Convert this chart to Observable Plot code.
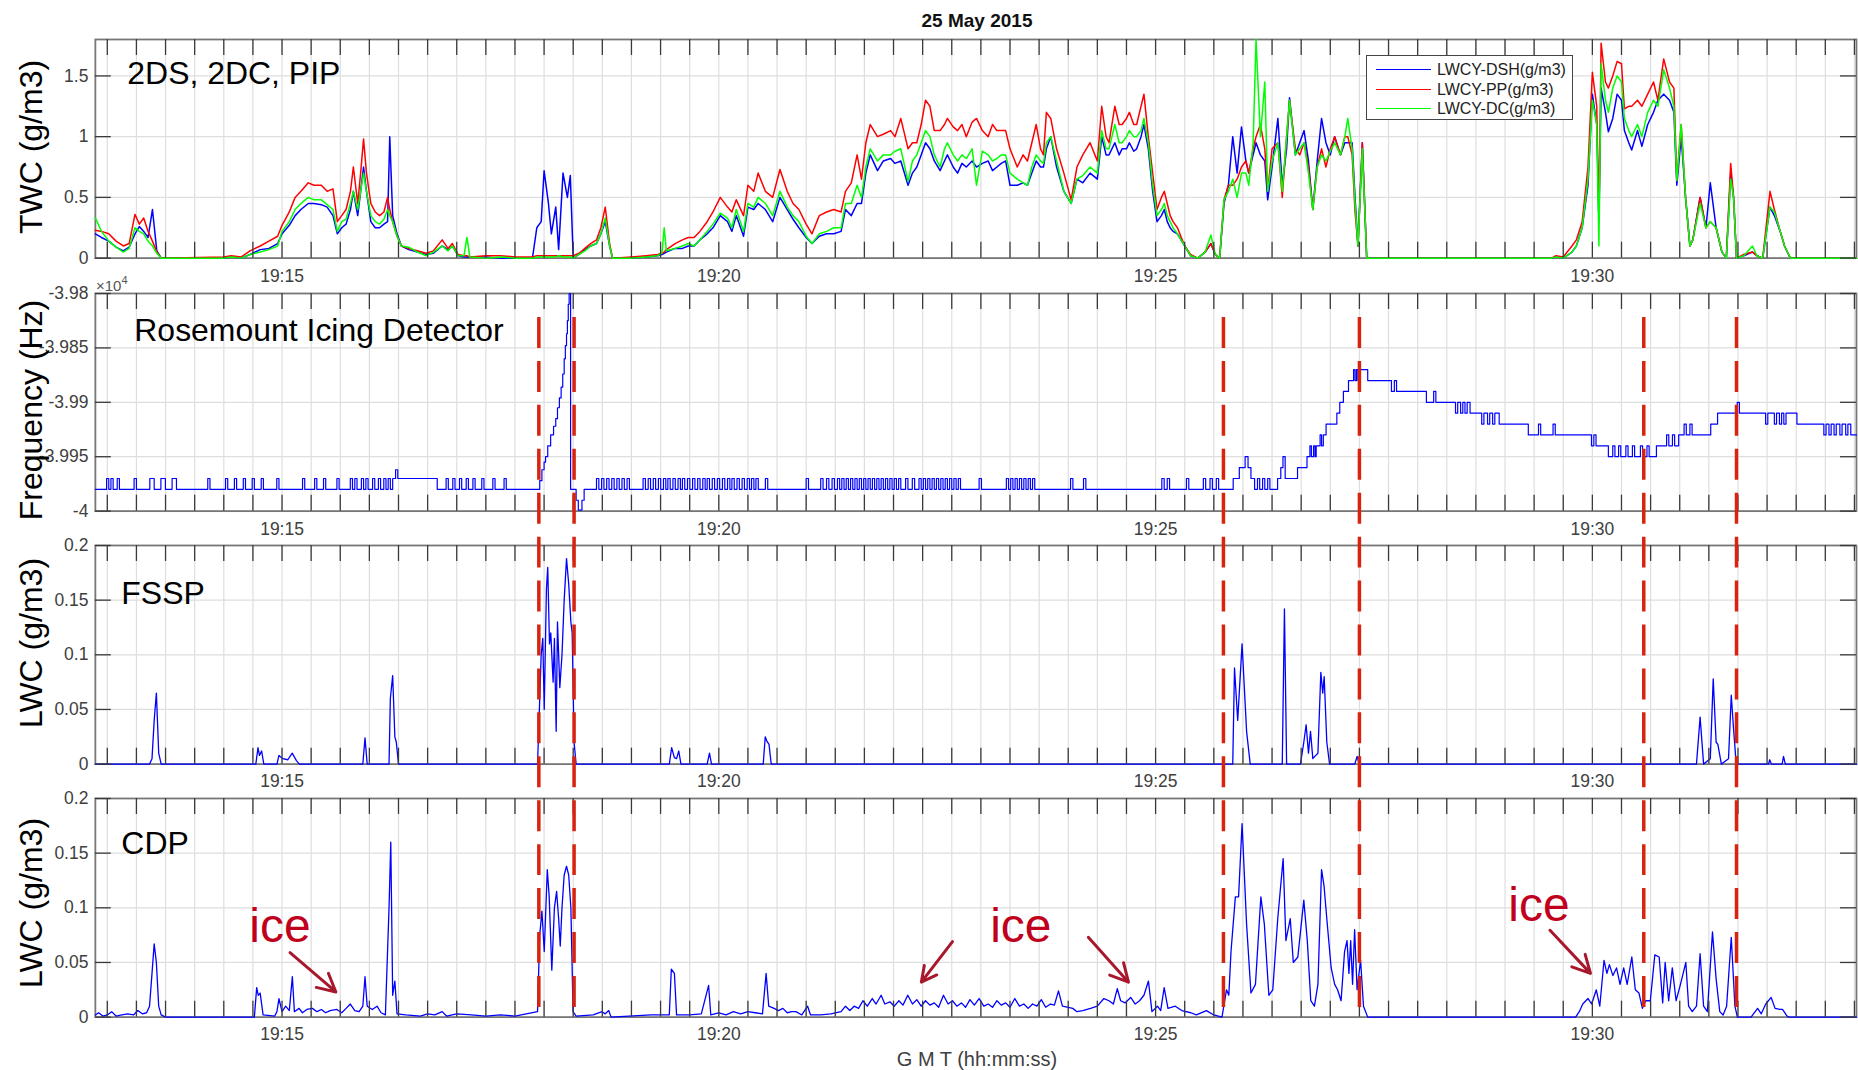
<!DOCTYPE html>
<html>
<head>
<meta charset="utf-8">
<script src="https://cdn.jsdelivr.net/npm/d3@7"></script>
<script src="https://cdn.jsdelivr.net/npm/@observablehq/plot@0.6"></script>
<style>
html,body{margin:0;padding:0;background:#fff;}
#fig{position:relative;width:1858px;height:1070px;overflow:hidden;background:#fff;font-family:"Liberation Sans",Arial,Helvetica,sans-serif;}
#fig svg{position:absolute;left:0;overflow:visible;}
.t{position:absolute;white-space:nowrap;}
.yl{position:absolute;white-space:nowrap;font-size:32px;color:#000;transform:translate(-50%,-50%) rotate(-90deg);line-height:1;}
</style>
</head>
<body>
<div id="fig"></div>
<script>
// ---------------- DATA (time in seconds relative to 19:15:00 GMT) ----------------
const chartTitle = "25 May 2015";
const xAxisTitle = "G M T (hh:mm:ss)";
const xTickLabels = ["19:15", "19:20", "19:25", "19:30"];
const xStartSec = -128.2, xEndSec = 1081.4;

const seriesNames = ["LWCY-DSH(g/m3)", "LWCY-PP(g/m3)", "LWCY-DC(g/m3)"];
const seriesColors = ["#0000ff", "#ff0000", "#00ff00"];

const twcTime = [-128.2,-124,-119,-114,-109,-105,-101,-98,-95,-92,
 -89,-86,-83,-40,-35,-28,-22,-15,-9,-3,
 0,5,9,13,18,22,27,31,35,38,
 41,44,47,49,52,54,56,58,61,64,
 67,70,72.5,74,76,79,82,87,93,99,
 104,110,114,117,121,125,127,129,140,150,
 160,172,175,178,180,183,185,188,190,193,
 196,198,200,204,208,212,216,219,222,225,
 227,240,250,258,261,262.5,264,270,275,279,
 283,287,292,296,301,306,309,312,317,320,
 324,327,332,337,342,347,351,355,360,364,
 369,374,379,384,387,391,395,398,401,404,
 409,413,418,421,425,430,433,436,439,442,
 445,448,452,455,457,461,464,467,470,474,
 477,481,485,488,491,494,497,500,505,509,
 512,515,518,521,523,525,528,532,537,542,
 546,550,555,560,563,566,568,572,575,577,
 580,582,585,587,590,592,595,598,601,604,
 606,608,610,612,615,620,624,629,634,638,
 641,644,647,650,653,656,659,662,664,667,
 669,672,675,677,680,684,687,690,692,696,
 699,702,705,708,711,714,717,720,723,727,
 730,732,735,737,739,742,745,872,875,880,
 886,889,893,897,900,903,904.5,906,909,911,
 914,917,920,922,925,927,931,934,938,942,
 945,949,953,956,958,961,964,967,969,974,
 978,981,985,989,992,995,997,999,1004,1010,
 1013,1017,1022,1025,1029,1032,1036,1081.4];
const twcDSH = [.20,.17,.14,.09,.06,.09,.20,.26,.22,.17,
 .40,.06,0,0,.01,0,.03,.07,.08,.12,
 .20,.27,.35,.40,.45,.45,.44,.42,.35,.20,
 .25,.28,.40,.55,.35,.55,.75,.55,.30,.25,
 .25,.28,.30,1.00,.35,.20,.10,.07,.05,.03,
 .04,.10,.07,.10,.02,.01,.01,.01,.01,0,
 0,0,.25,.30,.72,.45,.20,.42,.07,.70,
 .50,.68,0,.03,.07,.10,.12,.20,.30,.10,
 0,0,.01,.02,.03,.04,.05,.08,.08,.10,
 .10,.15,.20,.25,.35,.30,.22,.35,.18,.42,
 .40,.45,.40,.30,.50,.40,.32,.25,.17,.12,
 .18,.20,.20,.22,.40,.35,.45,.45,.70,.85,
 .72,.80,.82,.78,.80,.60,.70,.75,.85,.95,
 .90,.80,.72,.80,.85,.75,.70,.78,.75,.80,
 .75,.78,.80,.72,.75,.78,.80,.60,.60,.62,
 .60,.70,.80,.75,.75,.90,1.00,.75,.55,.45,
 .65,.62,.70,.65,1.00,.85,.85,.95,.85,.90,
 .90,.95,.88,.90,1.00,1.10,.90,.55,.30,.35,
 .40,.30,.25,.22,.20,.10,.02,0,.05,.12,
 .03,0,.45,.60,1.00,.70,1.08,.80,.70,.85,
 .95,.85,.80,.48,.75,1.15,.60,.90,1.32,.85,
 .95,1.05,.80,.40,.80,1.15,.95,.85,1.00,.85,
 .95,.95,.95,.50,.10,.95,0,0,.01,0,
 .05,.10,.25,.60,1.35,1.10,.30,1.40,1.20,1.04,
 1.15,1.35,1.30,1.05,.95,.89,1.05,.92,1.10,1.20,
 1.30,1.35,1.30,1.20,.60,1.00,.50,.10,.15,.50,
 .25,.62,.25,.05,0,.70,.50,0,.02,.05,
 .02,0,.42,.35,.22,.10,0,0];
const twcPP = [.23,.22,.20,.14,.10,.12,.36,.28,.33,.22,
 .14,.05,0,.01,.02,.01,.06,.10,.14,.18,
 .27,.38,.50,.55,.62,.60,.60,.55,.57,.30,
 .35,.40,.55,.75,.45,.70,.98,.70,.45,.38,
 .35,.38,.50,.40,.30,.18,.10,.08,.06,.04,
 .06,.15,.08,.12,.03,.02,.02,.01,.02,.02,
 .01,.01,.02,.02,.02,.02,.02,.02,.02,.02,
 .02,.02,.02,.04,.08,.12,.15,.25,.42,.12,
 0,.01,.02,.03,.04,.05,.07,.12,.15,.17,
 .17,.22,.30,.38,.50,.42,.38,.48,.35,.60,
 .55,.70,.55,.50,.73,.55,.45,.40,.28,.20,
 .35,.38,.40,.38,.55,.62,.85,.65,.95,1.10,
 1.00,1.02,1.05,1.00,1.15,.90,.95,.95,1.10,1.30,
 1.25,1.05,1.05,1.10,1.15,1.08,1.05,1.10,1.00,1.12,
 1.15,1.05,1.00,1.10,1.05,1.05,1.05,.90,.75,.85,
 .80,.95,1.10,.90,.85,1.20,1.15,.90,.70,.48,
 .75,.85,.95,.80,1.25,1.00,.95,1.25,1.10,1.10,
 1.15,1.20,1.10,1.10,1.25,1.35,1.00,.70,.40,.50,
 .55,.45,.35,.30,.25,.10,.03,0,.05,.12,
 .03,0,.48,.60,.60,.65,.75,.80,.70,.90,
 1.00,1.10,.90,.55,.90,.95,.50,1.00,1.30,.90,
 .85,.95,.75,.40,.75,.90,.75,.90,1.00,.85,
 1.00,1.00,.85,.38,.10,.95,0,0,.02,.01,
 .10,.15,.30,.75,1.53,1.25,.30,1.77,1.45,1.40,
 1.50,1.62,1.60,1.23,1.25,1.25,1.30,1.25,1.35,1.45,
 1.30,1.64,1.45,1.40,.64,1.10,.50,.10,.15,.50,
 .25,.30,.25,.05,0,.78,.50,0,.03,.05,
 .02,0,.55,.40,.22,.10,0,0];
const twcDC = [.33,.22,.14,.09,.05,.08,.25,.22,.20,.14,
 .10,.04,0,0,.01,0,.03,.05,.07,.10,
 .22,.30,.40,.45,.50,.48,.48,.44,.40,.22,
 .30,.32,.45,.55,.40,.55,.70,.55,.35,.30,
 .28,.32,.40,.35,.30,.18,.10,.09,.05,.02,
 .05,.10,.06,.10,.02,.02,.17,.01,0,.01,
 0,0,.01,.01,.01,.01,.01,.01,.02,.01,
 .01,.01,0,.03,.06,.10,.12,.20,.33,.10,
 0,0,.01,.02,.04,.25,.06,.08,.10,.12,
 .10,.15,.22,.28,.37,.33,.25,.40,.22,.45,
 .42,.50,.45,.35,.55,.42,.35,.30,.18,.12,
 .20,.22,.25,.25,.45,.45,.60,.50,.75,.90,
 .80,.85,.85,.88,.90,.63,.80,.85,.95,1.05,
 1.00,.85,.75,.90,.95,.85,.80,.85,.82,.90,
 .60,.88,.85,.80,.82,.85,.85,.70,.65,.62,
 .60,.75,.85,.80,.78,.95,1.00,.80,.55,.45,
 .65,.68,.75,.70,1.05,.90,.90,1.10,.95,.95,
 1.00,1.05,1.00,1.00,1.05,1.15,.95,.60,.35,.40,
 .45,.35,.30,.25,.20,.10,.02,0,.05,.19,
 .03,0,.48,.55,.65,.50,.70,.70,.60,.95,
 1.80,1.00,1.45,.55,.80,.95,.55,1.00,1.30,.85,
 .90,.95,.70,.40,.75,.85,.80,.88,.95,.85,
 1.00,1.15,.90,.45,.10,.90,0,0,.01,0,
 .05,.10,.25,.65,1.30,1.10,.10,1.60,1.30,1.20,
 1.40,1.50,1.45,1.15,1.05,1.00,1.10,1.00,1.20,1.30,
 1.25,1.55,1.40,1.25,.64,1.10,.50,.10,.15,.45,
 .25,.30,.25,.05,0,.65,.50,0,.02,.10,
 .02,0,.42,.38,.22,.10,0,0];

// Rosemount icing detector frequency (Hz), stepwise readings [sec, Hz]
const freqPts = [
 [-128.2,-39980],[-120.5,-39970],[-119,-39980],[-117.5,-39970],[-116,-39980],[-113.2,-39970],[-111.7,-39980],
 [-101.6,-39970],[-100,-39980],[-90.8,-39970],[-87.8,-39980],[-83.2,-39970],[-80.1,-39980],[-75.5,-39970],[-72.5,-39980],
 [-51,-39970],[-49.5,-39980],[-38.8,-39970],[-37.3,-39980],[-32.7,-39970],[-31.2,-39980],[-26.6,-39970],[-25.1,-39980],
 [-20.5,-39970],[-19,-39980],[-14.3,-39970],[-12.8,-39980],[-3.6,-39970],[-2.1,-39980],[14.1,-39970],[15.6,-39980],
 [22.4,-39970],[23.9,-39980],[28.5,-39970],[30,-39980],[37.7,-39970],[39.2,-39980],[46.9,-39970],[48.4,-39980],
 [50,-39970],[51.5,-39980],[54.5,-39970],[56,-39980],[57.6,-39970],[59.1,-39980],[62.2,-39970],[63.7,-39980],
 [66.2,-39970],[67.7,-39980],[69.9,-39970],[71.4,-39980],[72.9,-39970],[74.4,-39980],
 [76,-39970],[78,-39962],[79.5,-39970],[106.6,-39980],
 [112.7,-39970],[114.2,-39980],[117.3,-39970],[118.8,-39980],[121.9,-39970],[123.4,-39980],[126.5,-39970],[128,-39980],
 [131.1,-39970],[132.6,-39980],[137.2,-39970],[138.7,-39980],[144.8,-39970],[146.3,-39980],[152.5,-39970],[154,-39980],
 [177,-39972],[178.5,-39962],[180,-39955],[181,-39950],[182.5,-39940],[184.5,-39930],[186.5,-39922],[188,-39915],
 [189.2,-39905],[190.5,-39896],[191.7,-39886],[192.8,-39874],[193.8,-39860],[194.6,-39848],[195.4,-39837],[196,-39825],
 [196.6,-39810],[197.2,-39800],[198.2,-39980],[202,-39990],[203.5,-39999],[206,-39990],[207.5,-39980],
 [216,-39970],[217.6,-39980],[219.5,-39970],[221.1,-39980],[223,-39970],[224.6,-39980],[226.5,-39970],[228.1,-39980],
 [230,-39970],[231.6,-39980],[233.5,-39970],[235.1,-39980],[237,-39970],[238.6,-39980],
 [248,-39970],[249.6,-39980],[251.5,-39970],[253.1,-39980],[255,-39970],[256.6,-39980],[258.5,-39970],[260.1,-39980],
 [262,-39970],[263.6,-39980],[265,-39970],[266.6,-39980],[268.5,-39970],[270.1,-39980],[272,-39970],[273.6,-39980],
 [275,-39970],[276.6,-39980],[278.5,-39970],[280.1,-39980],[282,-39970],[283.6,-39980],[285.5,-39970],[287.1,-39980],
 [289,-39970],[290.6,-39980],[292,-39970],[293.6,-39980],[295.5,-39970],[297.1,-39980],[299,-39970],[300.6,-39980],
 [302.5,-39970],[304.1,-39980],[306,-39970],[307.6,-39980],[309,-39970],[310.6,-39980],[312.5,-39970],[314.1,-39980],
 [316,-39970],[317.6,-39980],[319.5,-39970],[321.1,-39980],[322.5,-39970],[324.1,-39980],[325.5,-39970],[327.1,-39980],
 [332,-39970],[333.6,-39980],
 [360,-39970],[361.6,-39980],[370,-39970],[371.6,-39980],[374,-39970],[375.6,-39980],[377.8,-39970],[379.4,-39980],
 [381.5,-39970],[383,-39980],[384.5,-39970],[386,-39980],[387.5,-39970],[389,-39980],[390.5,-39970],[392,-39980],
 [393.5,-39970],[395,-39980],[396.5,-39970],[398,-39980],[399.5,-39970],[401,-39980],[402.5,-39970],[404,-39980],
 [405.5,-39970],[407,-39980],[408.5,-39970],[410,-39980],[411.5,-39970],[413,-39980],[414.5,-39970],[416,-39980],
 [417.5,-39970],[419,-39980],[420.5,-39970],[422,-39980],[423.5,-39970],[425,-39980],[428.3,-39970],[429.9,-39980],
 [432.9,-39970],[434.5,-39980],[437.5,-39970],[439,-39980],[440.5,-39970],[442,-39980],[443.5,-39970],[445,-39980],
 [446.5,-39970],[448,-39980],[449.5,-39970],[451,-39980],[452.5,-39970],[454,-39980],[455.5,-39970],[457,-39980],
 [458.5,-39970],[460,-39980],[461.5,-39970],[463,-39980],[464.5,-39970],[466,-39980],
 [478.8,-39970],[480.4,-39980],
 [497.5,-39970],[499,-39980],[500.5,-39970],[502,-39980],[503.5,-39970],[505,-39980],[506.5,-39970],[508,-39980],
 [509.5,-39970],[511,-39980],[512.5,-39970],[514,-39980],[515.5,-39970],[517,-39980],
 [541.6,-39970],[543.2,-39980],[550.5,-39970],[552.1,-39980],[604.3,-39970],[605.9,-39980],[608,-39970],[609.6,-39980],
 [621.2,-39970],[622.8,-39980],[632.8,-39970],[634.4,-39980],[637.4,-39970],[639,-39980],[641.7,-39970],[643.3,-39980],
 [653.3,-39970],[657.5,-39960],[661.5,-39950],[663.5,-39960],[665.5,-39970],[668,-39980],[670,-39970],[671.5,-39980],
 [673.5,-39970],[675,-39980],[677,-39970],[678.5,-39980],[683.8,-39970],[686,-39960],[687.5,-39950],[689,-39970],
 [697.5,-39960],[704,-39950],[706,-39940],[707,-39950],[708.5,-39940],[709.5,-39950],[710.3,-39940],[713,-39930],
 [714,-39940],[715.2,-39930],[717.1,-39920],[724.5,-39910],[726.5,-39900],[729,-39890],[732.5,-39880],[736,-39870],
 [737,-39880],[738,-39870],[739,-39880],[739.8,-39870],[745.7,-39880],
 [762,-39890],[764,-39880],[765.5,-39890],[786,-39900],[791,-39890],[792.5,-39900],
 [806,-39910],[807.5,-39900],[809.5,-39910],[811,-39900],[812.5,-39910],[814,-39900],[816,-39910],
 [824,-39920],[825.5,-39910],[828,-39920],[829.5,-39910],[831.5,-39920],[833,-39910],[836,-39920],
 [856,-39930],[863,-39920],[864.5,-39930],[873,-39920],[874.5,-39930],[899.4,-39940],[901,-39930],[902.5,-39940],
 [911,-39950],[914,-39940],[915.5,-39950],[918,-39940],[919.5,-39950],[923,-39940],[924.5,-39950],[927.5,-39940],
 [929,-39950],[933,-39940],[934.5,-39950],[937.5,-39940],[939,-39950],[944,-39940],[951,-39930],[952.5,-39940],
 [955,-39930],[956.5,-39940],[959.3,-39930],[963,-39920],[964.5,-39930],[967,-39920],[968.5,-39930],
 [981.3,-39920],[986,-39910],[999.5,-39900],[1001,-39910],
 [1019,-39920],[1020.5,-39910],[1025,-39920],[1026.5,-39910],[1028.5,-39920],[1030,-39910],[1031.5,-39920],[1033,-39910],
 [1040.5,-39920],[1059,-39930],[1060.5,-39920],[1062.5,-39930],[1064,-39920],[1066,-39930],[1067.5,-39920],
 [1070,-39930],[1071.5,-39920],[1074,-39930],[1075.5,-39920],[1077.5,-39930],[1081.4,-39930]];

// FSSP LWC (g/m3) [sec, value]
const fsspPts = [[-128.2,0],[-91,0],[-89.3,.005],[-87.8,.04],[-86.3,.065],[-84.7,.01],[-83,0],
 [-18,0],[-16.5,.015],[-15.5,.008],[-14,.012],[-12.5,0],[-3.5,0],[-2.1,.008],[.5,.005],[4,.004],[7,.01],[10,.003],[12,0],
 [55.5,0],[57,.024],[58.5,0],[73.5,0],[74.4,.06],[76,.081],[77.5,.025],[78.5,.02],[80,0],
 [175.5,0],[177,.059],[178,.1],[179.1,.115],[180.1,.05],[181.6,.16],[182.5,.18],[183.7,.11],[184.6,.12],[186.2,.075],
 [187.1,.115],[188.3,.03],[189.2,.13],[190.8,.07],[192.3,.1],[193.8,.15],[195.4,.188],[196.9,.165],[198.4,.13],[199.3,.12],
 [200.6,.02],[202,0],[266,0],[267.6,.015],[269.5,.006],[271,.005],[272.5,.012],[274,0],[292,0],[293.6,.01],[295,0],
 [330.5,0],[331.9,.025],[333,.021],[334.5,.018],[336,0],
 [653,0],[654.2,.088],[656.4,.04],[659.4,.11],[662.5,.03],[665,0],[687,0],[688.5,.142],[690,0],
 [699.5,0],[701.8,.02],[703.4,.036],[705,.01],[706.4,.03],[708,.005],[710,.008],[711.5,.01],[713.5,.084],[714.8,.065],
 [715.8,.08],[717.6,.02],[719.5,0],[736.8,0],[738.4,.007],[740,0],
 [971.5,0],[974,.043],[976.4,0],[981,.005],[983,.078],[985,.02],[986.2,.018],[988.6,0],[993.5,.005],[995.4,.063],
 [997.1,.03],[998.8,0],[1021,0],[1021.8,.004],[1023,0],[1030.3,0],[1031.3,.007],[1032.5,0],[1081.4,0]];

// CDP LWC (g/m3) [sec, value]
const cdpPts = [[-128.2,.002],[-126,.004],[-123,.001],[-120,.002],[-117,.005],[-114,.001],[-110,.002],[-106,.003],[-102,.002],
 [-99,.006],[-96,.003],[-93,.004],[-91,.01],[-89.3,.04],[-87.8,.067],[-86.3,.05],[-84.7,.01],[-83,.002],[-80,0],
 [-19,0],[-17.4,.027],[-16.3,.02],[-15,.022],[-13,.002],[-5,.001],[-3.5,.005],[-2.1,.017],[0,.005],[2.5,.01],[5,.006],
 [7.1,.037],[8.5,.005],[11.7,.008],[14,.004],[17,.007],[20.9,.008],[24,.005],[27,.007],[30,.004],[33,.006],[37.7,.007],
 [41,.004],[44,.008],[46.9,.012],[50,.006],[53,.005],[55.5,.01],[57,.037],[58.5,.01],[62,.007],[65.3,.01],[68,.004],
 [71,.002],[73.5,.1],[74.7,.16],[76,.02],[77.5,.033],[79,.003],[85,.002],[95,.001],[100,.003],[105,.002],[110,.005],
 [113,.001],[120,.003],[130,.002],[140,.001],[150,.002],[160,.001],
 [175.5,.005],[177,.075],[178.5,.097],[180.1,.06],[182.2,.135],[183.5,.11],[185.3,.043],[187.1,.1],[188.6,.115],[190,.09],
 [191.1,.065],[192.3,.1],[193.8,.13],[195.4,.138],[196.9,.13],[198.4,.1],[199.9,.005],[202,.001],
 [213.7,.002],[219.8,.005],[222,.003],[224.4,.006],[226,0],[253.5,.002],[259.6,.002],[266,.002],[267.4,.044],[269.5,.04],
 [271,.002],[280,.002],[288,.003],[293,.029],[294.5,.002],[300,.004],[305,.002],[310,.005],[315,.003],[320,.005],
 [325,.004],[330,.003],[332.5,.04],[334.3,.01],[338,.008],[341,.006],[344,.008],[347,.004],[350,.005],[353,.005],
 [357,.002],[361,.01],[363,.002],[370,.002],[377,.003],[384,.005],[387,.01],[390,.006],[393,.01],[396,.008],[399,.015],
 [402,.01],[405.4,.017],[408,.012],[411.5,.02],[414,.012],[417.5,.014],[420.5,.01],[423.7,.015],[426.5,.011],[429.8,.02],
 [433,.012],[436,.016],[439,.01],[442,.015],[445,.011],[448,.013],[451,.009],[454.3,.02],[457.5,.012],[460.5,.015],
 [463.5,.01],[466.6,.013],[469.5,.009],[472.5,.016],[475.5,.011],[478.8,.017],[482,.01],[485,.012],[488,.009],[491,.015],
 [494,.011],[497,.013],[500,.009],[503.3,.017],[506.5,.01],[509.5,.012],[512.5,.008],[515.5,.012],[518.5,.01],[521.5,.016],
 [524.5,.009],[527.8,.012],[530.5,.011],[533.3,.024],[536,.01],[540,.009],[543.1,.008],[546,.005],[550,.006],[555.3,.008],
 [560,.01],[564.5,.017],[568,.015],[571,.012],[573.7,.026],[576,.015],[579,.013],[582.9,.018],[586,.012],[589,.015],
 [592,.02],[595.1,.033],[597.5,.005],[601.3,.01],[603.5,.006],[605.9,.027],[608.5,.008],[613.5,.01],[618,.006],
 [624.2,.004],[628,.002],[634.9,.006],[640,.002],[645.6,0],
 [648.7,.025],[650.3,.02],[651.8,.06],[654.8,.11],[657,.11],[659.4,.177],[662.5,.085],[665.5,.022],[668.6,.03],
 [672.3,.11],[674.7,.085],[677.8,.02],[680.5,.025],[683.9,.09],[687.6,.145],[689.5,.07],[692.5,.09],[694.6,.05],
 [697.7,.055],[701.8,.107],[704.2,.07],[706.6,.015],[709.1,.01],[711.5,.03],[714,.135],[715.7,.12],[717.6,.09],
 [720.6,.045],[723,.03],[725,.025],[727.4,.015],[729.8,.06],[731.5,.07],[732.8,.04],[734,.07],[735.3,.03],[736.7,.08],
 [738.4,.025],[740.8,.052],[742.8,.01],[745.7,0],
 [888.5,0],[891,.005],[893.4,.012],[897,.017],[899.5,.012],[902.7,.025],[905.1,.01],[908,.052],[910,.04],[911.7,.048],
 [914.1,.038],[916.6,.045],[919,.03],[921.5,.045],[923.9,.03],[927.1,.055],[929.5,.025],[932,.022],[934.4,.008],
 [936.5,.015],[939.8,.015],[942.9,.057],[945.9,.055],[948.3,.013],[950,.05],[952.4,.015],[954.9,.045],[957.5,.015],
 [960.5,.03],[964.2,.05],[966.1,.01],[968.6,.005],[971.5,.01],[974,.058],[976.4,.01],[979,.005],[982.5,.078],[985,.035],
 [987.5,.005],[989.8,.002],[992.2,.01],[995.4,.073],[997.9,.01],[999.6,0],[1009,0],[1011.8,.005],[1013.5,.008],
 [1016,.003],[1019.1,.012],[1022.8,.018],[1025.5,.008],[1028.8,.007],[1030.6,.007],[1033.7,.001],[1035,0],[1081.4,0]];

// red dashed event markers (sec)
const eventSec = [176.4, 200.6, 646.6, 740, 935.3, 999];

// "ice" annotations on the CDP panel
const iceLabels = [{s: -1.4, v: 0.083}, {s: 507.4, v: 0.083}, {s: 863.3, v: 0.102}];
const iceArrows = [
  {s1: 5.5, v1: 0.059, s2: 37, v2: 0.023},
  {s1: 460.5, v1: 0.069, s2: 439.1, v2: 0.032},
  {s1: 553.8, v1: 0.073, s2: 581.4, v2: 0.032},
  {s1: 870.9, v1: 0.0795, s2: 898.7, v2: 0.04}
];

// ---------------- RENDER ----------------
const FONT = '"Liberation Sans", Arial, Helvetica, sans-serif';
const T0 = Date.UTC(2015, 4, 25, 19, 15, 0);
const toDate = s => new Date(T0 + s * 1000);
const xDomain = [toDate(xStartSec), toDate(xEndSec)];
const tickTimes = d3.utcSecond.every(20).range(xDomain[0], xDomain[1]);
const parseHM = d3.utcParse("%Y-%m-%d %H:%M");
const labelTimes = xTickLabels.map(l => parseHM("2015-05-25 " + l));
const fig = document.getElementById("fig");

const W = 1861, ML = 95, MR = 2, innerW = W - ML - MR, TL = 16;

function addPanel(cfg) {
  const mt = 8, mb = 40, h = cfg.h;
  const chart = Plot.plot({
    width: W, height: h + mt + mb,
    marginLeft: ML, marginRight: MR, marginTop: mt, marginBottom: mb,
    style: {fontFamily: FONT, fontSize: "17.5px", color: "#404040", background: "none", overflow: "visible"},
    x: {type: "utc", domain: xDomain, axis: null},
    y: {domain: cfg.yDomain, axis: null},
    marks: [
      Plot.ruleX(tickTimes, {x: d => d, stroke: "#dedede", strokeWidth: 1.2}),
      Plot.ruleY(cfg.yTicks, {y: d => d, stroke: "#dedede", strokeWidth: 1.2}),
      Plot.frame({stroke: "#777", strokeWidth: 1.8}),
      ...cfg.marks,
      Plot.tickX(tickTimes, {x: d => d, insetTop: h - TL, stroke: "#3a3a3a", strokeWidth: 1.3}),
      Plot.tickX(tickTimes, {x: d => d, insetBottom: h - TL, stroke: "#3a3a3a", strokeWidth: 1.3}),
      Plot.tickY(cfg.yTicks, {y: d => d, insetRight: innerW - TL, stroke: "#3a3a3a", strokeWidth: 1.3}),
      Plot.tickY(cfg.yTicks, {y: d => d, insetLeft: innerW - TL, stroke: "#3a3a3a", strokeWidth: 1.3}),
      Plot.text(labelTimes, {x: d => d, frameAnchor: "bottom", dy: cfg.labelDy, lineAnchor: "middle", text: (d, i) => xTickLabels[i], fill: "#404040", fontSize: 17.5}),
      Plot.text(cfg.yTicks, {y: d => d, frameAnchor: "left", dx: -7, textAnchor: "end", lineAnchor: "middle", text: (d, i) => cfg.yLabels[i], fill: "#404040", fontSize: 17.5}),
      Plot.text([cfg.name], {frameAnchor: "top-left", dx: cfg.ndx, dy: cfg.ndy, textAnchor: "start", lineAnchor: "middle", text: d => d, fontSize: 32, fill: "#000"}),
      ...(cfg.extra || [])
    ]
  });
  chart.style.top = (cfg.top - mt) + "px";
  fig.appendChild(chart);
}

const idx = d3.range(twcTime.length);
const twcSeries = [twcDSH, twcPP, twcDC];

addPanel({
  top: 39, h: 219, yDomain: [0, 1.8], yTicks: [0, 0.5, 1, 1.5], yLabels: ["0", "0.5", "1", "1.5"],
  name: "2DS, 2DC, PIP", ndx: 32, ndy: 34, labelDy: 18,
  marks: twcSeries.map((arr, k) => Plot.line(idx, {x: i => toDate(twcTime[i]), y: i => arr[i], stroke: seriesColors[k], strokeWidth: 1.5}))
});

addPanel({
  top: 293, h: 218, yDomain: [-40000, -39800], yTicks: [-40000, -39950, -39900, -39850, -39800],
  yLabels: ["-4", "-3.995", "-3.99", "-3.985", "-3.98"],
  name: "Rosemount Icing Detector", ndx: 39, ndy: 37, labelDy: 18,
  marks: [Plot.line(freqPts, {x: d => toDate(d[0]), y: d => d[1], stroke: "#0000ff", strokeWidth: 1.2, curve: "step-after"})]
});

const lwcTicks = [0, 0.05, 0.1, 0.15, 0.2], lwcLabels = ["0", "0.05", "0.1", "0.15", "0.2"];
addPanel({
  top: 545, h: 219, yDomain: [0, 0.2], yTicks: lwcTicks, yLabels: lwcLabels,
  name: "FSSP", ndx: 26, ndy: 48, labelDy: 17.5,
  marks: [Plot.line(fsspPts, {x: d => toDate(d[0]), y: d => d[1], stroke: "#0000ff", strokeWidth: 1.3})]
});

addPanel({
  top: 798, h: 219, yDomain: [0, 0.2], yTicks: lwcTicks, yLabels: lwcLabels,
  name: "CDP", ndx: 26, ndy: 45, labelDy: 17.5,
  marks: [Plot.line(cdpPts, {x: d => toDate(d[0]), y: d => d[1], stroke: "#0000ff", strokeWidth: 1.3})],
  extra: [
    Plot.arrow(iceArrows, {x1: d => toDate(d.s1), y1: d => d.v1, x2: d => toDate(d.s2), y2: d => d.v2, stroke: "#a8182c", strokeWidth: 3, headLength: 14, headAngle: 55}),
    Plot.text(iceLabels, {x: d => toDate(d.s), y: d => d.v, text: () => "ice", fill: "#c0001c", fontSize: 48, textAnchor: "middle", lineAnchor: "middle"})
  ]
});

// red dashed event lines spanning panels 2-4
const overlay = Plot.plot({
  width: W, height: 691, marginLeft: ML, marginRight: MR, marginTop: 0, marginBottom: 0,
  style: {background: "none", overflow: "visible"},
  x: {type: "utc", domain: xDomain, axis: null},
  marks: [Plot.ruleX(eventSec.map(toDate), {x: d => d, stroke: "#d8230f", strokeWidth: 3.5, strokeDasharray: "31,13"})]
});
overlay.style.top = "317px";
overlay.style.pointerEvents = "none";
fig.appendChild(overlay);

// texts
function addText(html, css) {
  const d = document.createElement("div");
  d.className = "t";
  d.innerHTML = html;
  Object.assign(d.style, css);
  fig.appendChild(d);
  return d;
}
addText(chartTitle, {left: "977px", top: "20px", transform: "translate(-50%,-50%)", fontWeight: "bold", fontSize: "19px", color: "#111", lineHeight: "1"});
addText(xAxisTitle, {left: "977px", top: "1059px", transform: "translate(-50%,-50%)", fontSize: "20px", color: "#404040", lineHeight: "1"});
addText("×10<sup style='font-size:11px;vertical-align:7px'>4</sup>", {left: "96px", top: "273px", fontSize: "15px", color: "#555", lineHeight: "15px"});

const yTitles = [["TWC (g/m3)", 147], ["Frequency (Hz)", 410], ["LWC (g/m3)", 643], ["LWC (g/m3)", 903]];
yTitles.forEach(([t, cy]) => {
  const d = document.createElement("div");
  d.className = "yl";
  d.textContent = t;
  d.style.left = "31px";
  d.style.top = cy + "px";
  fig.appendChild(d);
});

// legend
const leg = document.createElement("div");
Object.assign(leg.style, {position: "absolute", left: "1366px", top: "55px", width: "207px", height: "65px", border: "1.5px solid #444", background: "#fff", boxSizing: "border-box"});
seriesNames.forEach((n, k) => {
  const row = document.createElement("div");
  Object.assign(row.style, {position: "absolute", left: "0px", top: (14 + k * 19.6 - 10) + "px", height: "20px", width: "100%"});
  const sw = document.createElement("div");
  Object.assign(sw.style, {position: "absolute", left: "9px", top: "9px", width: "55px", height: "0px", borderTop: "1.5px solid " + seriesColors[k]});
  const tx = document.createElement("div");
  Object.assign(tx.style, {position: "absolute", left: "70px", top: "0px", fontSize: "16px", lineHeight: "20px", color: "#222", whiteSpace: "nowrap"});
  tx.textContent = n;
  row.appendChild(sw); row.appendChild(tx);
  leg.appendChild(row);
});
fig.appendChild(leg);
</script>
</body>
</html>
